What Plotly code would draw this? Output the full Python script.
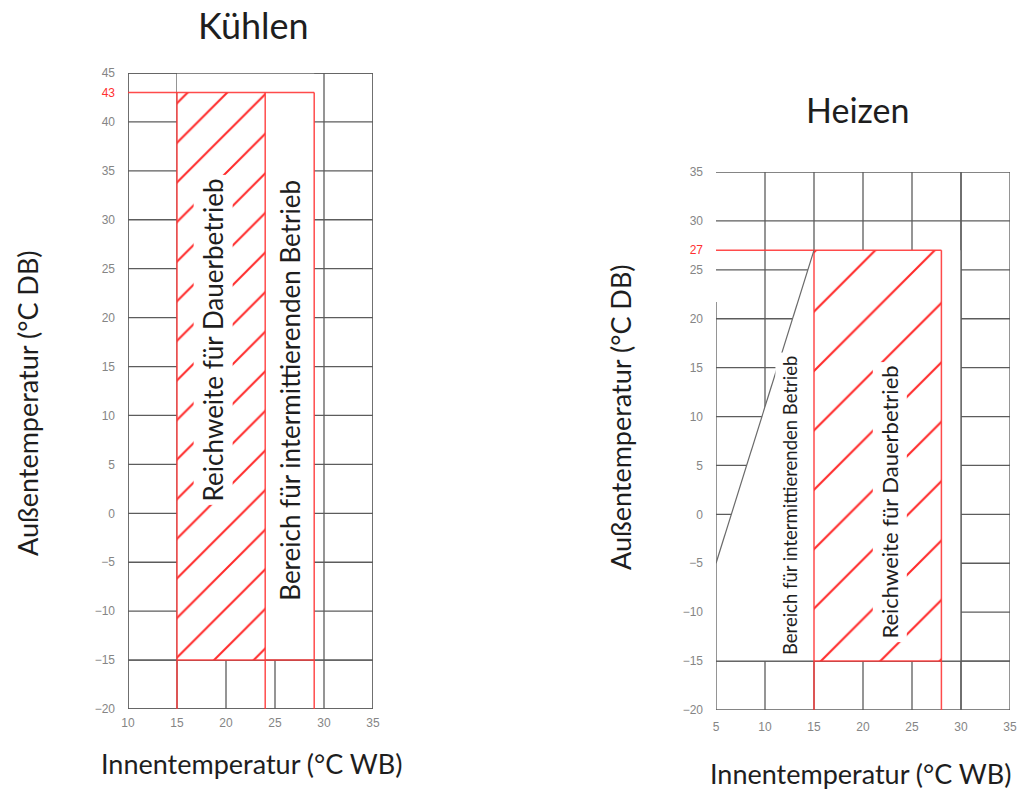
import plotly.graph_objects as go

# ---------------- data ----------------
# Kühlen (cooling)
cool_x_grid = [10, 15, 20, 25, 30, 35]
cool_y_grid = [45, 40, 35, 30, 25, 20, 15, 10, 5, 0, -5, -10, -15, -20]
cool_x_ticks = [10, 15, 20, 25, 30, 35]
cool_y_ticks = [45, 43, 40, 35, 30, 25, 20, 15, 10, 5, 0, -5, -10, -15, -20]
cool_continuous_x = [15, 24]      # Reichweite für Dauerbetrieb
cool_intermittent_x = [24, 29]    # Bereich für intermittierenden Betrieb
cool_outdoor_limits = [-15, 43]
cool_limit_label = 43

# Heizen (heating)
heat_x_grid = [10, 15, 20, 25, 30, 35]
heat_y_grid = [35, 30, 25, 20, 15, 10, 5, 0, -5, -10, -15, -20]
heat_x_ticks = [5, 10, 15, 20, 25, 30, 35]
heat_y_ticks = [35, 30, 27, 25, 20, 15, 10, 5, 0, -5, -10, -15, -20]
heat_continuous_x = [15, 28]
heat_outdoor_limits = [-15, 27]
heat_intermittent_edge_x = [5, 15]
heat_intermittent_edge_y = [-5, 27]
heat_limit_label = 27
heat_left_frame_top = 21.7

# ---------------- helpers ----------------
W, H = 1018, 789
GRID = "#5c5c5c"
RED = "rgba(255,55,55,0.9)"
HATCH = "#ff2a2a"
TXT = "#1e1e1e"
FONT = "Lato"


def segs(pairs):
    xs, ys = [], []
    for (x0, y0), (x1, y1) in pairs:
        xs += [x0, x1, None]
        ys += [y0, y1, None]
    return xs, ys


def line_trace(pairs, color, width, xa, ya):
    xs, ys = segs(pairs)
    return go.Scatter(x=xs, y=ys, mode="lines", line=dict(color=color, width=width),
                      xaxis=xa, yaxis=ya, hoverinfo="skip", showlegend=False)


def poly_trace(px, py, xa, ya, pattern=None):
    kw = dict(x=px + [px[0]], y=py + [py[0]], mode="lines", fill="toself",
              fillcolor="white", line=dict(width=0, color="white"),
              xaxis=xa, yaxis=ya, hoverinfo="skip", showlegend=False)
    if pattern:
        kw["fillpattern"] = pattern
    return go.Scatter(**kw)


def tick_text(vals, red_val):
    out = []
    for v in vals:
        s = str(v).replace("-", "\u2212")
        if v == red_val:
            s = '<span style="color:#ff3030">%s</span>' % s
        out.append(s)
    return out


fig = go.Figure()

# ================= Kühlen =================
cx0, cx1 = cool_x_grid[0], cool_x_grid[-1]
cy0, cy1 = cool_y_grid[-1], cool_y_grid[0]
lo, hi = cool_outdoor_limits
a, b = cool_continuous_x
_, c = cool_intermittent_x

grid = [((x, cy0), (x, cy1)) for x in cool_x_grid] + [((cx0, y), (cx1, y)) for y in cool_y_grid]
fig.add_trace(line_trace(grid, GRID, 1.3, "x", "y"))
fig.add_trace(poly_trace([a, c, c, a], [lo, lo, cy1, cy1], "x", "y"))
frame = [((cx0, cy0), (cx1, cy0)), ((cx0, cy1), (cx1, cy1)), ((cx0, cy0), (cx0, cy1)),
         ((cx1, cy0), (cx1, cy1)), ((cx0, lo), (cx1, lo))]
fig.add_trace(line_trace(frame, GRID, 1.3, "x", "y"))
fig.add_trace(poly_trace([a, b, b, a], [lo, lo, hi, hi], "x", "y",
                         dict(shape="/", fgcolor=HATCH, fgopacity=1, bgcolor="white",
                              size=28, solidity=0.072)))
red = [((a, cy0), (a, hi)), ((b, cy0), (b, hi)), ((c, cy0), (c, hi)),
       ((cx0, hi), (c, hi)), ((a, lo), (c, lo))]
fig.add_trace(line_trace(red, RED, 1.5, "x", "y"))

# ================= Heizen =================
hx0, hx1 = heat_intermittent_edge_x[0], heat_x_grid[-1]
hy0, hy1 = heat_y_grid[-1], heat_y_grid[0]
hlo, hhi = heat_outdoor_limits
ha, hb = heat_continuous_x
ex, ey = heat_intermittent_edge_x, heat_intermittent_edge_y
wall = heat_x_grid[-2]

grid = [((x, hy0), (x, hy1)) for x in heat_x_grid] + [((hx0, y), (hx1, y)) for y in heat_y_grid]
fig.add_trace(line_trace(grid, GRID, 1.3, "x2", "y2"))
fig.add_trace(poly_trace([hx0, hx0, ex[1], wall, wall], [hlo, ey[0], ey[1], hhi, hlo], "x2", "y2"))
frame = [((hx0, hlo), (hx1, hlo)), ((wall, hy0), (wall, hy1)), ((hx0, hy0), (hx0, heat_left_frame_top))]
fig.add_trace(line_trace(frame, GRID, 1.3, "x2", "y2"))
fig.add_trace(poly_trace([ha, hb, hb, ha], [hlo, hlo, hhi, hhi], "x2", "y2",
                         dict(shape="/", fgcolor=HATCH, fgopacity=1, bgcolor="white",
                              size=42, solidity=0.05)))
red = [((ha, hy0), (ha, hhi)), ((hb, hy0), (hb, hhi)), ((hx0, hhi), (hb, hhi)), ((ha, hlo), (hb, hlo))]
fig.add_trace(line_trace(red, RED, 1.5, "x2", "y2"))
fig.add_trace(line_trace([((ex[0], ey[0]), (ex[1], ey[1]))], "#6a6a6a", 1.2, "x2", "y2"))

# ---------------- axes ----------------
def px_dom(p0, p1, size, flip=False):
    if flip:
        return [1 - p1 / size, 1 - p0 / size]
    return [p0 / size, p1 / size]

tickfont = dict(family="Liberation Sans, Arial", size=12, color="#858585")
common = dict(showgrid=False, zeroline=False, showline=False, ticks="", fixedrange=True,
              automargin=False, tickfont=tickfont)

fig.update_layout(
    width=W, height=H, margin=dict(l=0, r=0, t=0, b=0, pad=0), autosize=False,
    paper_bgcolor="white", plot_bgcolor="white", showlegend=False,
    xaxis=dict(domain=px_dom(128, 373, W), range=[cx0, cx1], anchor="y",
               tickvals=cool_x_ticks, ticktext=tick_text(cool_x_ticks, None),
               ticklabelstandoff=5, **common),
    yaxis=dict(domain=px_dom(73, 709, H, True), range=[cy0, cy1], anchor="x",
               tickvals=cool_y_ticks, ticktext=tick_text(cool_y_ticks, cool_limit_label),
               ticklabelstandoff=12, **common),
    xaxis2=dict(domain=px_dom(716, 1010, W), range=[hx0, hx1], anchor="y2",
                tickvals=heat_x_ticks, ticktext=tick_text(heat_x_ticks, None),
                ticklabelstandoff=8, **common),
    yaxis2=dict(domain=px_dom(172, 710, H, True), range=[hy0, hy1], anchor="x2",
                tickvals=heat_y_ticks, ticktext=tick_text(heat_y_ticks, heat_limit_label),
                ticklabelstandoff=12, **common),
)

# ---------------- texts ----------------
def pa(text, xp, yp, size, angle=0):
    fig.add_annotation(text=text, x=xp / W, y=1 - yp / H, xref="paper", yref="paper",
                       showarrow=False, textangle=angle, xanchor="center", yanchor="middle",
                       font=dict(family=FONT, size=size, color=TXT))

def da(text, x, y, xa, ya, size):
    fig.add_annotation(text=text, x=x, y=y, xref=xa, yref=ya, showarrow=False, textangle=-90,
                       xanchor="center", yanchor="middle", bgcolor="white", borderpad=3,
                       font=dict(family=FONT, size=size, color=TXT))

pa("Kühlen", 253, 25, 36)
pa("Heizen", 858, 110, 34)
pa("Außentemperatur (°C DB)", 28, 403, 27, -90)
pa("Innentemperatur (°C WB)", 251, 763, 27)
pa("Außentemperatur (°C DB)", 620, 417, 27, -90)
pa("Innentemperatur (°C WB)", 860, 773, 27)

da("Reichweite für Dauerbetrieb", 18.7, 17.7, "x", "y", 26)
da("Bereich für intermittierenden Betrieb", 26.5, 12.6, "x", "y", 26)
da("Bereich für intermittierenden Betrieb", 12.55, 0.95, "x2", "y2", 18.5)
da("Reichweite für Dauerbetrieb", 22.75, 1.3, "x2", "y2", 22)

fig.write_html("out.html", config={"displayModeBar": False},
               post_script="document.body.style.margin='0px';document.body.style.overflow='hidden';")
